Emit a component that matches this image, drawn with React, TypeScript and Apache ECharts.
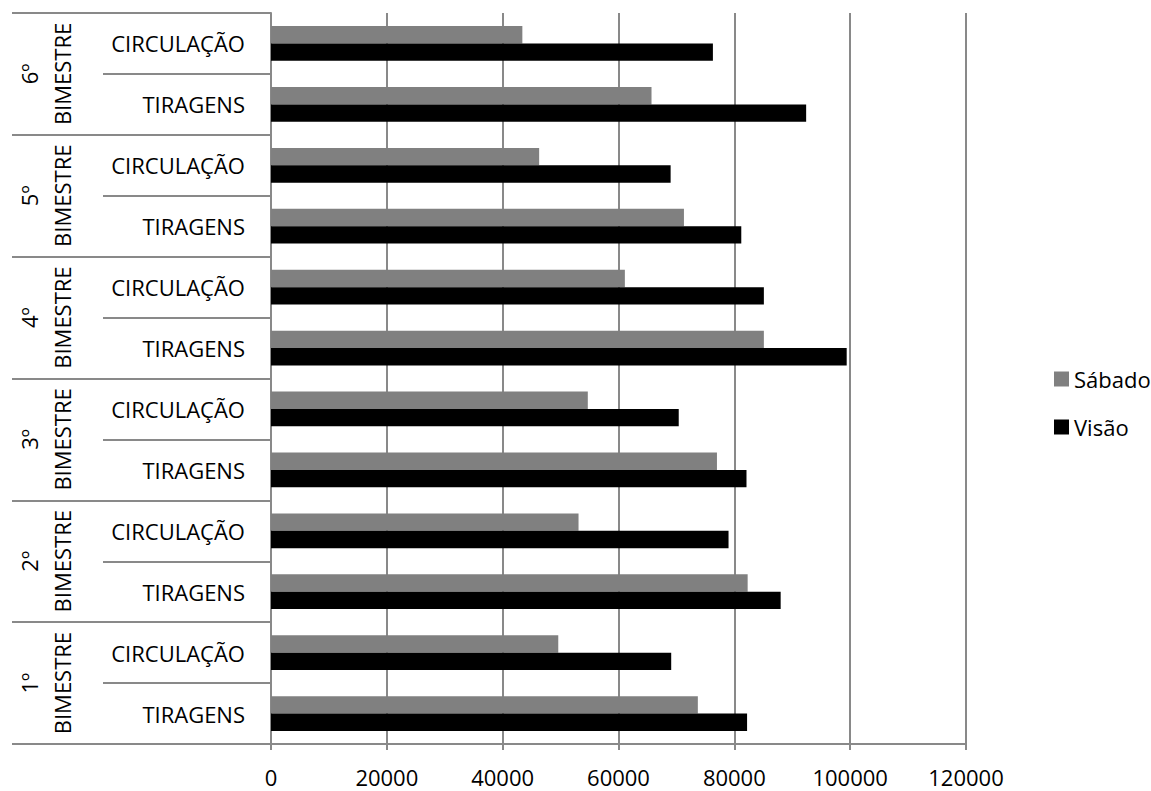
import React, { useEffect, useRef } from 'react';
import * as echarts from 'echarts';

// Categories (bottom to top, as in the source)
const bimestres = ['1º\nBIMESTRE', '2º\nBIMESTRE', '3º\nBIMESTRE', '4º\nBIMESTRE', '5º\nBIMESTRE', '6º\nBIMESTRE'];
const itens = ['TIRAGENS', 'CIRCULAÇÃO'];

// Series values, in category order (1º TIRAGENS, 1º CIRCULAÇÃO, 2º TIRAGENS, ...)
const sabado = [73700, 49600, 82300, 53100, 77000, 54700, 85100, 61100, 71300, 46300, 65700, 43400];
const visao = [82200, 69100, 88000, 79000, 82100, 70400, 99400, 85100, 81200, 69000, 92400, 76300];

const seriesNames = ['Sábado', 'Visão'];
const xMin = 0;
const xMax = 120000;
const xStep = 20000;

const FONT = 'Open Sans';
const LINE = '#898989';

export default function App() {
  const ref = useRef<HTMLDivElement>(null);
  useEffect(() => {
    const chart = echarts.init(ref.current!, null, { renderer: 'svg' });
    const categories = bimestres.flatMap((_, gi) => itens.map((it) => `${gi}|${it}`));
    const option = {
      animation: false,
      backgroundColor: '#ffffff',
      textStyle: { fontFamily: FONT },
      grid: { left: 271, top: 13, width: 695, height: 731, containLabel: false },
      legend: {
        data: seriesNames,
        orient: 'vertical',
        left: 1049,
        top: 363,
        itemWidth: 15,
        itemHeight: 15,
        itemGap: 26,
        icon: 'rect',
        textStyle: { fontFamily: FONT, fontSize: 22, color: '#000', lineHeight: 22 },
      },
      xAxis: {
        type: 'value',
        min: xMin,
        max: xMax,
        interval: xStep,
        axisLine: { show: true, lineStyle: { color: LINE, width: 2 } },
        axisTick: { show: true, length: 6, lineStyle: { color: LINE, width: 2 } },
        splitLine: { show: true, lineStyle: { color: LINE, width: 2 } },
        axisLabel: {
          fontFamily: FONT,
          fontSize: 22,
          lineHeight: 22,
          color: '#000',
          margin: 22,
          formatter: (v: number) => String(v),
        },
      },
      yAxis: [
        {
          type: 'category',
          data: categories,
          position: 'left',
          axisLine: { show: true, lineStyle: { color: LINE, width: 2 } },
          axisTick: { show: true, length: 168, interval: 0, lineStyle: { color: LINE, width: 2 } },
          axisLabel: {
            interval: 0,
            margin: 26,
            fontFamily: FONT,
            fontSize: 22,
            color: '#000',
            formatter: (v: string) => v.split('|')[1],
          },
          splitLine: { show: false },
        },
        {
          type: 'category',
          data: bimestres,
          position: 'left',
          offset: 168,
          axisLine: { show: false },
          axisTick: { show: true, length: 91, interval: 0, lineStyle: { color: LINE, width: 2 } },
          axisLabel: {
            interval: 0,
            rotate: 90,
            margin: 25,
            fontFamily: FONT,
            fontSize: 22,
            lineHeight: 33,
            color: '#000',
          },
          splitLine: { show: false },
        },
      ],
      series: [
        {
          name: seriesNames[0],
          type: 'bar',
          yAxisIndex: 0,
          data: sabado,
          itemStyle: { color: '#808080' },
          barCategoryGap: '43%',
          barGap: '0%',
        },
        {
          name: seriesNames[1],
          type: 'bar',
          yAxisIndex: 0,
          data: visao,
          itemStyle: { color: '#000000' },
          barCategoryGap: '43%',
          barGap: '0%',
        },
      ],
    };
    chart.setOption(option as any);
    return () => chart.dispose();
  }, []);
  return <div ref={ref} style={{ position: 'absolute', left: 0, top: 0, width: 1151, height: 791 }} />;
}
